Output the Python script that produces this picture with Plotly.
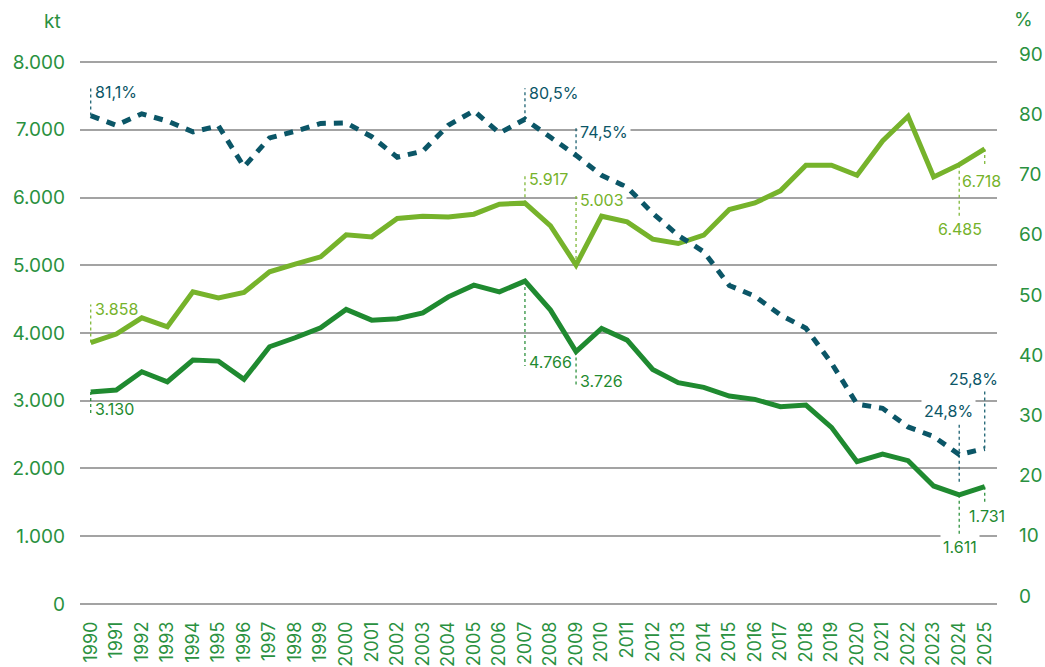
import plotly.graph_objects as go

# ---- data -------------------------------------------------------------
years = list(range(1990, 2026))

# dark green series (kt)
dark_kt = [3130, 3158, 3428, 3280, 3600, 3585, 3315, 3797, 3930, 4077,
           4348, 4190, 4210, 4298, 4534, 4707, 4608, 4766, 4338, 3726,
           4068, 3895, 3463, 3266, 3197, 3069, 3020, 2912, 2937, 2607,
           2101, 2214, 2115, 1742, 1611, 1731]

# light green series (kt)
light_kt = [3858, 3984, 4224, 4092, 4608, 4519, 4599, 4903, 5016, 5124,
            5450, 5419, 5690, 5724, 5714, 5754, 5901, 5917, 5581, 5003,
            5724, 5640, 5385, 5321, 5444, 5823, 5920, 6098, 6477, 6477,
            6329, 6835, 7199, 6304, 6485, 6718]

# dashed series (%), right axis
share_pct = [81.1, 79.5, 81.4, 80.2, 78.4, 79.4, 72.6, 77.4, 78.5, 79.8,
             79.9, 77.6, 74.2, 75.2, 79.5, 81.9, 78.2, 80.5, 77.5, 74.5,
             71.2, 69.2, 64.9, 61.2, 58.5, 52.9, 51.1, 48.0, 45.8, 40.0,
             33.2, 32.5, 29.4, 27.8, 24.8, 25.8]

left_ticks = list(range(0, 8001, 1000))
right_ticks = list(range(0, 91, 10))

# ---- styling ----------------------------------------------------------
DARK = "#1f8a30"
LIGHT = "#76b32b"
TEAL = "#0b5667"
AXIS_GREEN = "#2a9140"
GRID = "#a3a3a3"
FONT = "Inter"

Y_RANGE = [-30, 8030]
Y2_RANGE = [v * 90 / 8000 for v in Y_RANGE]


def kt_text(v):
    return f"{v:,}".replace(",", ".")


def pct_text(v):
    return f"{v:.1f}".replace(".", ",") + "%"


fig = go.Figure()

fig.add_trace(go.Scatter(x=years, y=light_kt, mode="lines",
                         line=dict(color=LIGHT, width=5), yaxis="y",
                         hoverinfo="skip", showlegend=False))
fig.add_trace(go.Scatter(x=years, y=dark_kt, mode="lines",
                         line=dict(color=DARK, width=5), yaxis="y",
                         hoverinfo="skip", showlegend=False))
fig.add_trace(go.Scatter(x=years, y=share_pct, mode="lines",
                         line=dict(color=TEAL, width=5, dash="9px,8px"),
                         yaxis="y2", hoverinfo="skip", showlegend=False))

# callouts: (values, axis, formatter, colour, year, line from/to px, text shift, anchor, xshift, white box)
callouts = [
    (dark_kt, "y", kt_text, DARK, 1990, (0, -23), -17, "left", 1, False),
    (dark_kt, "y", kt_text, DARK, 2007, (0, -85), -81, "left", 1, False),
    (dark_kt, "y", kt_text, DARK, 2009, (0, -35), -29, "left", 1, False),
    (dark_kt, "y", kt_text, DARK, 2024, (0, -42), -52, "center", 1, True),
    (dark_kt, "y", kt_text, DARK, 2025, (0, -18), -29, "center", 2, False),
    (light_kt, "y", kt_text, LIGHT, 1990, (0, 38), 34, "left", 1, False),
    (light_kt, "y", kt_text, LIGHT, 2007, (0, 29), 24, "left", 1, False),
    (light_kt, "y", kt_text, LIGHT, 2009, (0, 72), 65, "left", 1, True),
    (light_kt, "y", kt_text, LIGHT, 2024, (0, -52), -64, "center", 1, False),
    (light_kt, "y", kt_text, LIGHT, 2025, (0, -18), -32, "center", -3, False),
    (share_pct, "y2", pct_text, TEAL, 1990, (0, 29), 24, "left", 1, False),
    (share_pct, "y2", pct_text, TEAL, 2007, (0, 31), 26, "left", 1, False),
    (share_pct, "y2", pct_text, TEAL, 2009, (0, 30), 23, "left", 1, True),
    (share_pct, "y2", pct_text, TEAL, 2024, (-27, 38), 44, "center", -11, True),
    (share_pct, "y2", pct_text, TEAL, 2025, (0, 58), 70, "center", -11, False),
]

shapes = []
annotations = []
for values, axis, fmt, color, year, (l0, l1), tshift, anchor, xs, box in callouts:
    v = values[years.index(year)]
    shapes.append(dict(type="line", xref="x", yref=axis, x0=year, x1=year,
                       ysizemode="pixel", yanchor=v, y0=l0, y1=l1,
                       line=dict(color=color, width=1.2, dash="dot")))
    annotations.append(dict(x=year, y=v, xref="x", yref=axis, text=fmt(v),
                            showarrow=False, xanchor=anchor, yanchor="middle",
                            xshift=xs, yshift=tshift,
                            font=dict(family=FONT, size=16, color=color),
                            bgcolor="white" if box else None,
                            borderpad=2))

# axis unit titles
annotations.append(dict(text="kt", xref="paper", yref="paper", x=0, y=1,
                        xanchor="right", yanchor="middle", xshift=-17, yshift=39,
                        showarrow=False,
                        font=dict(family=FONT, size=19, color=AXIS_GREEN)))
annotations.append(dict(text="%", xref="paper", yref="paper", x=1, y=1,
                        xanchor="left", yanchor="middle", xshift=15, yshift=41,
                        showarrow=False,
                        font=dict(family=FONT, size=19, color=AXIS_GREEN)))

fig.update_layout(
    width=1045, height=667,
    margin=dict(l=80, r=48, t=60, b=61),
    paper_bgcolor="white", plot_bgcolor="white",
    separators=",.",
    font=dict(family=FONT, color=AXIS_GREEN),
    showlegend=False,
    hovermode=False,
    shapes=shapes,
    annotations=annotations,
    xaxis=dict(
        range=[1989.58, 2025.48], automargin=False,
        tickmode="array", tickvals=years, ticktext=[str(y) for y in years],
        tickangle=-90, ticks="", showgrid=False, zeroline=False, showline=False,
        tickfont=dict(family=FONT, size=18, color=AXIS_GREEN),
        ticklabelstandoff=11,
    ),
    yaxis=dict(
        range=Y_RANGE, automargin=False, tickmode="array", tickvals=left_ticks,
        tickformat=",d", ticks="", showline=False,
        showgrid=True, gridcolor=GRID, gridwidth=1.5,
        zeroline=True, zerolinecolor=GRID, zerolinewidth=1.5,
        tickfont=dict(family=FONT, size=19, color=AXIS_GREEN),
        ticklabelstandoff=14,
    ),
    yaxis2=dict(
        range=Y2_RANGE, automargin=False, overlaying="y", side="right",
        tickmode="array", tickvals=right_ticks, ticks="",
        showgrid=False, zeroline=False, showline=False,
        tickfont=dict(family=FONT, size=19, color=AXIS_GREEN),
        ticklabelstandoff=21, ticklabelshift=-8,
    ),
)

fig.write_html("out.html")
